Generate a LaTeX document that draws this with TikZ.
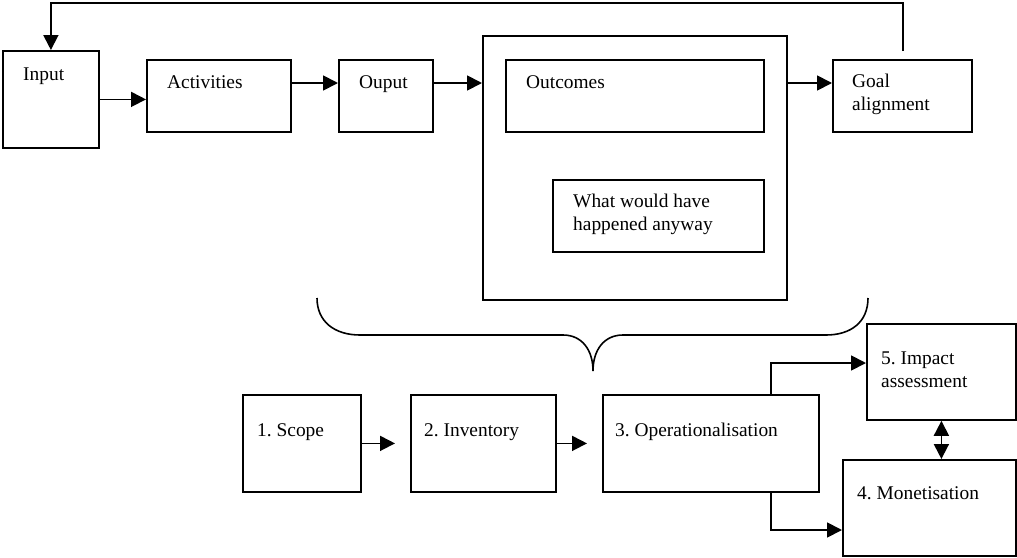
\documentclass[tikz,border=0pt]{standalone}
\usepackage{fontspec}
\setmainfont{Liberation Serif}
\usetikzlibrary{arrows.meta,calc}
\frenchspacing
\begin{document}
\begin{tikzpicture}[x=1pt,y=-1pt,
  box/.style={draw,line width=1.8pt,inner sep=0pt,anchor=north west},
  lbl/.style={inner sep=0pt,anchor=base west,align=left,font=\fontsize{19.4}{22.5}\selectfont\frenchspacing},
  arr/.style={line width=1.8pt,-{Triangle[length=15pt,width=15pt]}},
  darr/.style={line width=1.8pt,{Triangle[length=15pt,width=15pt]}-{Triangle[length=15pt,width=15pt]}},
  conn/.style={line width=1.6pt}]
\useasboundingbox (0,0) rectangle (1017,557);
% top row boxes
\node[box,minimum width=96pt,minimum height=97pt] (input) at (2,50) {};
\node[box,minimum width=144pt,minimum height=72pt] (act) at (146,59) {};
\node[box,minimum width=94pt,minimum height=72pt] (out) at (338,59) {};
\node[box,minimum width=304pt,minimum height=264pt] (big) at (482,35) {};
\node[box,minimum width=258pt,minimum height=72pt] (outc) at (505,59) {};
\node[box,minimum width=211pt,minimum height=72pt] (what) at (552,179) {};
\node[box,minimum width=139pt,minimum height=72pt] (goal) at (832,59) {};
% bottom row boxes
\node[box,minimum width=118pt,minimum height=97pt] (scope) at (242,394) {};
\node[box,minimum width=145pt,minimum height=97pt] (inv) at (410,394) {};
\node[box,minimum width=216pt,minimum height=97pt] (oper) at (602,394) {};
\node[box,minimum width=149pt,minimum height=96pt] (impact) at (866,323) {};
\node[box,minimum width=173pt,minimum height=96pt] (monet) at (842,459) {};
% labels (multi-line ones anchored at the baseline of their last line)
\node[lbl] (input-t) at (23,80) {Input};
\node[lbl] (act-t) at (167,88) {Activities};
\node[lbl] (out-t) at (359,88) {Ouput};
\node[lbl] (outc-t) at (526,88) {Outcomes};
\node[lbl] (what-t) at (573,230) {What would have\\happened anyway};
\node[lbl] (goal-t) at (852,110) {Goal\\alignment};
\node[lbl] (scope-t) at (257,436) {1. Scope};
\node[lbl] (inv-t) at (424,436) {2. Inventory};
\node[lbl] (oper-t) at (615,436) {3. Operationalisation};
\node[lbl] (impact-t) at (881,387) {5. Impact\\assessment};
\node[lbl] (monet-t) at (857,499) {4. Monetisation};
% connectors top
\coordinate (fbstart) at (903,51);
\draw[arr] (fbstart) |- (50,3) -| (input.north);
\draw[arr] (input.east) -- (input.east -| act.west);
\coordinate (a1) at ($(act.north east)+(0,24)$);
\draw[arr] (a1) -- (a1 -| out.west);
\coordinate (a2) at ($(out.north east)+(0,24)$);
\draw[arr] (a2) -- (a2 -| big.west);
\coordinate (a3) at ($(goal.north west)+(0,24)$);
\draw[arr] (a3 -| big.east) -- (a3);
% brace
\draw[conn] (317,298) .. controls (317,322) and (335,335) .. (360,335) -- (563,335)
  .. controls (582,335) and (593,350) .. (593,371)
  .. controls (593,350) and (604,335) .. (623,335) -- (826,335)
  .. controls (851,335) and (868,322) .. (868,298);
% connectors bottom
\draw[arr,shorten >=15pt] (scope) -- (inv);
\draw[arr,shorten >=15pt] (inv) -- (oper);
\coordinate (o1) at ($(oper.north west)+(169,0)$);
\coordinate (o2) at ($(oper.south west)+(169,0)$);
\draw[arr] (o1) |- ($(impact.north west)+(0,40)$);
\draw[arr] (o2) |- ($(monet.north west)+(0,71)$);
\draw[darr] (impact.south) -- (impact.south |- monet.north);
\end{tikzpicture}
\end{document}
